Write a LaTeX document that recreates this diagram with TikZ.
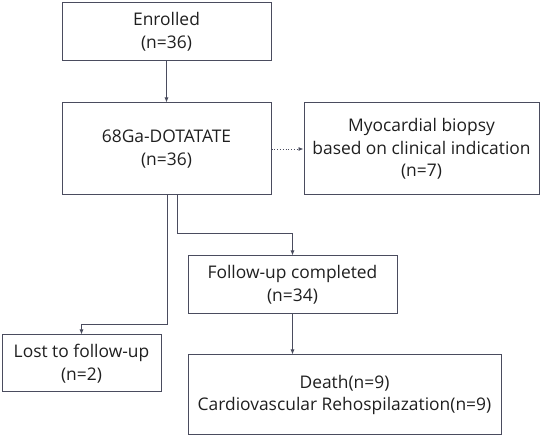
\documentclass[tikz,border=0pt]{standalone}
\usepackage{fontspec}
\setmainfont{Open Sans}
\usetikzlibrary{arrows.meta}
\definecolor{boxline}{HTML}{4A4C5E}
\definecolor{linkcol}{HTML}{4A4C5E}
\begin{document}
\begin{tikzpicture}[x=1pt,y=-1pt,
  box/.style={draw=boxline, line width=1pt, align=center, inner sep=0pt,
    font=\fontsize{17.4}{22.5}\selectfont, text=black!88},
  link/.style={draw=linkcol, line width=0.8pt, -{Latex[length=5pt,width=4pt]}}]
\useasboundingbox (0,0) rectangle (542,438);
\node[box, minimum width=209pt, minimum height=58pt] (enr) at (166.5,32) {Enrolled\\(n=36)};
\node[box, minimum width=209pt, minimum height=92pt] (dota) at (166.5,149) {68Ga-DOTATATE\\(n=36)};
\node[box, minimum width=235pt, minimum height=92pt] (bio) at (421.5,149) {Myocardial biopsy\\based on clinical indication\\(n=7)};
\node[box, minimum width=209pt, minimum height=58pt] (fu) at (292.5,285) {Follow-up completed\\(n=34)};
\node[box, minimum width=159pt, minimum height=57pt] (lost) at (81.5,363.5) {Lost to follow-up\\(n=2)};
\node[box, minimum width=313pt, minimum height=80pt] (death) at (344.5,395) {Death(n=9)\\Cardiovascular Rehospilazation(n=9)};

\draw[link] (enr.south) -- (dota.north);
\draw[link, dotted] (dota.east) -- (bio.west);
\draw[link] ([xshift=10.5pt]dota.south) -- ++(0,38) -| (fu.north);
\draw[link] ([xshift=0.5pt]dota.south) -- ++(0,129) -| (lost.north);
\draw[link] (fu.south) -- (fu.south |- death.north);
\end{tikzpicture}
\end{document}
